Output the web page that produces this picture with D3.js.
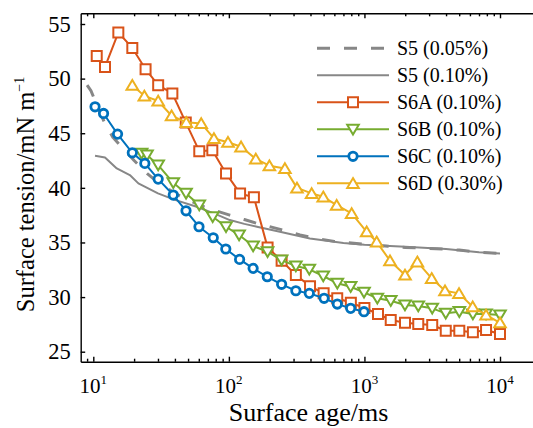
<!DOCTYPE html>
<html>
<head>
<meta charset="utf-8">
<script src="https://cdn.jsdelivr.net/npm/d3@7"></script>
<style>
  body { margin: 0; background: #fff; }
  svg text { font-family: "Liberation Serif", "Times New Roman", Times, "DejaVu Serif", serif; fill: #000; }
</style>
</head>
<body>
<svg id="chart" width="533" height="428"></svg>
<script>
// ---- data: surface age (ms) vs dynamic surface tension (mN/m) ----
const s5a_age = [9.0, 9.6, 10.3, 11.2, 12.5, 14.0, 15.5, 17.5, 20, 25, 30, 40, 50, 64.7, 80, 101.6, 130, 161, 200, 251, 335, 450, 600, 800, 1000, 1500, 2000, 3000, 4000, 5000, 7000, 10000];
const s5a_st  = [49.4, 48.9, 48.0, 46.9, 45.6, 44.6, 44.0, 43.3, 42.5, 41.3, 40.5, 39.5, 38.9, 38.3, 37.9, 37.5, 37.1, 36.75, 36.45, 36.13, 35.68, 35.35, 35.1, 34.95, 34.85, 34.65, 34.55, 34.46, 34.4, 34.3, 34.1, 34.0];

const s5b_age = [10.3, 12.2, 14.9, 18.6, 21.5, 30, 40, 57.9, 80, 101.6, 130, 161, 238, 396, 700, 1000, 2000, 4000, 7000, 10000];
const s5b_st  = [42.93, 42.78, 41.78, 41.17, 40.41, 39.5, 38.9, 38.27, 37.6, 37.05, 36.7, 36.44, 35.98, 35.37, 34.95, 34.8, 34.6, 34.4, 34.1, 34.0];

const s6a_age = [10.6, 12.2, 15.3, 19.4, 24.3, 30.1, 38.3, 48.1, 60.5, 75.5, 95.3, 121, 153, 193, 245, 312, 397, 500, 630, 794, 1000, 1259, 1563, 1991, 2495, 3163, 3980, 5010, 6310, 7890, 10000];
const s6a_st  = [52.08, 51.07, 54.22, 52.81, 50.86, 49.40, 48.64, 45.99, 43.36, 43.45, 41.32, 39.49, 39.13, 34.55, 33.33, 32.02, 31.0, 30.34, 29.89, 29.48, 29.0, 28.45, 27.9, 27.65, 27.53, 27.44, 26.92, 26.92, 26.78, 26.98, 26.62];

const s6b_age = [22.7, 24.9, 30.1, 38.9, 48.3, 60.5, 76, 95.3, 119, 151, 193, 245, 312, 392, 497, 631, 791, 993, 1245, 1563, 1991, 2495, 3163, 3980, 5010, 6310, 7890, 10000];
const s6b_st  = [43.15, 43.0, 42.08, 40.46, 39.49, 38.42, 37.35, 36.44, 35.68, 34.67, 34.15, 33.39, 32.84, 32.54, 31.93, 31.26, 30.95, 30.43, 29.89, 29.67, 29.27, 29.18, 28.97, 28.51, 28.66, 28.45, 28.45, 28.36];

const s6c_age = [10.3, 11.9, 15.1, 19.4, 24, 30.1, 38.9, 48.3, 60.2, 76.7, 94.9, 120, 151, 192, 245, 312, 392, 504, 631, 791, 993];
const s6c_st  = [47.42, 46.81, 44.92, 43.21, 42.24, 40.8, 39.34, 37.9, 36.44, 35.43, 34.4, 33.45, 32.63, 31.86, 31.17, 30.58, 30.34, 29.89, 29.36, 28.97, 28.66];

const s6d_age = [19.4, 23.8, 30.1, 37.8, 48.5, 62.5, 77.6, 98.5, 123, 158, 199, 259, 318, 408, 497, 624, 805, 1039, 1231, 1544, 1992, 2456, 3134, 3930, 4986, 6290, 7890, 10000];
const s6d_st  = [49.4, 48.42, 47.95, 46.6, 46.0, 45.9, 44.52, 44.18, 43.76, 42.65, 42.03, 41.78, 40.0, 39.49, 39.18, 38.42, 37.66, 35.98, 35.06, 33.33, 32.02, 33.23, 31.72, 30.58, 30.34, 29.12, 28.36, 27.65];

const seriesNames = ["S5 (0.05%)", "S5 (0.10%)", "S6A (0.10%)", "S6B (0.10%)", "S6C (0.10%)", "S6D (0.30%)"];
const yTicks = [25, 30, 35, 40, 45, 50, 55];
const xMajorTicks = [10, 100, 1000, 10000];

// ---- styles ----
const FONT = '"Liberation Serif", "Times New Roman", Times, "DejaVu Serif", serif';
const styles = [
  { color: "#878787", width: 3, dash: "13,14", marker: null },
  { color: "#878787", width: 2, dash: null, marker: null },
  { color: "#D95319", width: 2, dash: null, marker: "square" },
  { color: "#77AC30", width: 2, dash: null, marker: "triangleDown" },
  { color: "#0072BD", width: 2, dash: null, marker: "circle" },
  { color: "#EDB120", width: 2, dash: null, marker: "triangleUp" }
];
const series = [
  [s5a_age, s5a_st], [s5b_age, s5b_st], [s6a_age, s6a_st],
  [s6b_age, s6b_st], [s6c_age, s6c_st], [s6d_age, s6d_st]
].map(([a, s], i) => ({ name: seriesNames[i], style: styles[i], pts: a.map((v, j) => [v, s[j]]) }));

// ---- layout ----
const plot = { left: 80.7, right: 533, top: 13.3, bottom: 361.7 };
// anchor the decades / tick values, then extend to the frame edges
const xRef = d3.scaleLog().domain([10, 10000]).range([93.3, 500]);
const yRef = d3.scaleLinear().domain([25, 55]).range([351.7, 24]);
const x = d3.scaleLog().domain([xRef.invert(plot.left), xRef.invert(plot.right)]).range([plot.left, plot.right]);
const y = d3.scaleLinear().domain([yRef.invert(plot.bottom), yRef.invert(plot.top)]).range([plot.bottom, plot.top]);

const svg = d3.select("#chart").attr("font-family", FONT);

// minor decade ticks
const xMinor = [];
for (let d = 1; d <= 10000; d *= 10) for (let k = 2; k <= 9; k++) {
  const v = d * k;
  if (v >= x.domain()[0] && v <= x.domain()[1] && !xMajorTicks.includes(v)) xMinor.push(v);
}

// bottom axis
const gBottom = svg.append("g").attr("transform", `translate(0,${plot.bottom})`);
gBottom.call(d3.axisBottom(x).tickValues(xMinor).tickSizeInner(-3).tickSizeOuter(0).tickFormat(""));
gBottom.append("g").call(d3.axisBottom(x).tickValues(xMajorTicks).tickSizeInner(-5).tickSizeOuter(0).tickFormat(""))
  .select(".domain").remove();
// top axis
const gTop = svg.append("g").attr("transform", `translate(0,${plot.top})`);
gTop.call(d3.axisTop(x).tickValues(xMinor).tickSizeInner(-3).tickSizeOuter(0).tickFormat(""));
gTop.append("g").call(d3.axisTop(x).tickValues(xMajorTicks).tickSizeInner(-5).tickSizeOuter(0).tickFormat(""))
  .select(".domain").remove();
// left axis
const gLeft = svg.append("g").attr("transform", `translate(${plot.left},0)`);
gLeft.call(d3.axisLeft(y).tickValues(yTicks).tickSizeInner(-4.5).tickSizeOuter(0).tickPadding(10));
gLeft.selectAll(".tick text").style("font-size", "22.5px");

svg.selectAll("g").attr("font-family", FONT);
svg.selectAll(".domain, .tick line").attr("stroke", "#000").attr("stroke-width", 1.4);

// x tick labels as powers of ten
xMajorTicks.forEach(v => {
  const t = svg.append("text")
    .attr("x", x(v)).attr("y", 393)
    .attr("text-anchor", "middle")
    .attr("font-family", FONT)
    .style("font-size", "21px");
  t.append("tspan").text("10");
  t.append("tspan").attr("dy", -9).style("font-size", "13px").text(String(Math.round(Math.log10(v))));
});

// axis titles
svg.append("text")
  .attr("x", 308.5).attr("y", 421)
  .attr("text-anchor", "middle").attr("font-family", FONT).style("font-size", "26px")
  .text("Surface age/ms");

const yl = svg.append("text")
  .attr("transform", `translate(34,194.5) rotate(-90)`)
  .attr("text-anchor", "middle").attr("font-family", FONT).style("font-size", "24.5px");
yl.append("tspan").text("Surface tension/mN m");
yl.append("tspan").attr("dy", -10).style("font-size", "14px").text("\u22121");

// ---- series ----
svg.append("clipPath").attr("id", "plotclip").append("rect")
  .attr("x", plot.left).attr("y", plot.top)
  .attr("width", plot.right - plot.left).attr("height", plot.bottom - plot.top);

const line = d3.line().x(d => x(d[0])).y(d => y(d[1]));

function markerPath(type) {
  if (type === "square") return "M-5,-5H5V5H-5Z";
  if (type === "triangleUp") return "M0,-5.2L5.8,4.6L-5.8,4.6Z";
  if (type === "triangleDown") return "M0,5.2L5.8,-4.6L-5.8,-4.6Z";
  return null;
}
function drawMarker(g, type, color, cx, cy) {
  if (type === "circle") {
    g.append("circle").attr("cx", cx).attr("cy", cy).attr("r", 4.2)
      .attr("fill", "#fff").attr("stroke", color).attr("stroke-width", 2.8);
  } else {
    g.append("path").attr("d", markerPath(type))
      .attr("transform", `translate(${cx},${cy})`)
      .attr("fill", "#fff").attr("stroke", color).attr("stroke-width", 2);
  }
}

const gSeries = svg.append("g").attr("clip-path", "url(#plotclip)");
series.forEach(s => {
  const g = gSeries.append("g");
  g.append("path").datum(s.pts).attr("d", line)
    .attr("fill", "none").attr("stroke", s.style.color)
    .attr("stroke-width", s.style.width)
    .attr("stroke-dasharray", s.style.dash)
    .attr("stroke-linejoin", "round");
  if (s.style.marker) s.pts.forEach(p => drawMarker(g, s.style.marker, s.style.color, x(p[0]), y(p[1])));
});

// ---- legend ----
const leg = svg.append("g");
series.forEach((s, i) => {
  const cy = 48.3 + 27 * i;
  leg.append("line").attr("x1", 317).attr("x2", 389).attr("y1", cy).attr("y2", cy)
    .attr("stroke", s.style.color).attr("stroke-width", s.style.width)
    .attr("stroke-dasharray", s.style.dash);
  if (s.style.marker) drawMarker(leg, s.style.marker, s.style.color, 353, cy);
  leg.append("text").attr("x", 397).attr("y", cy + 7)
    .attr("font-family", FONT).style("font-size", "20px").text(s.name);
});
</script>
</body>
</html>
